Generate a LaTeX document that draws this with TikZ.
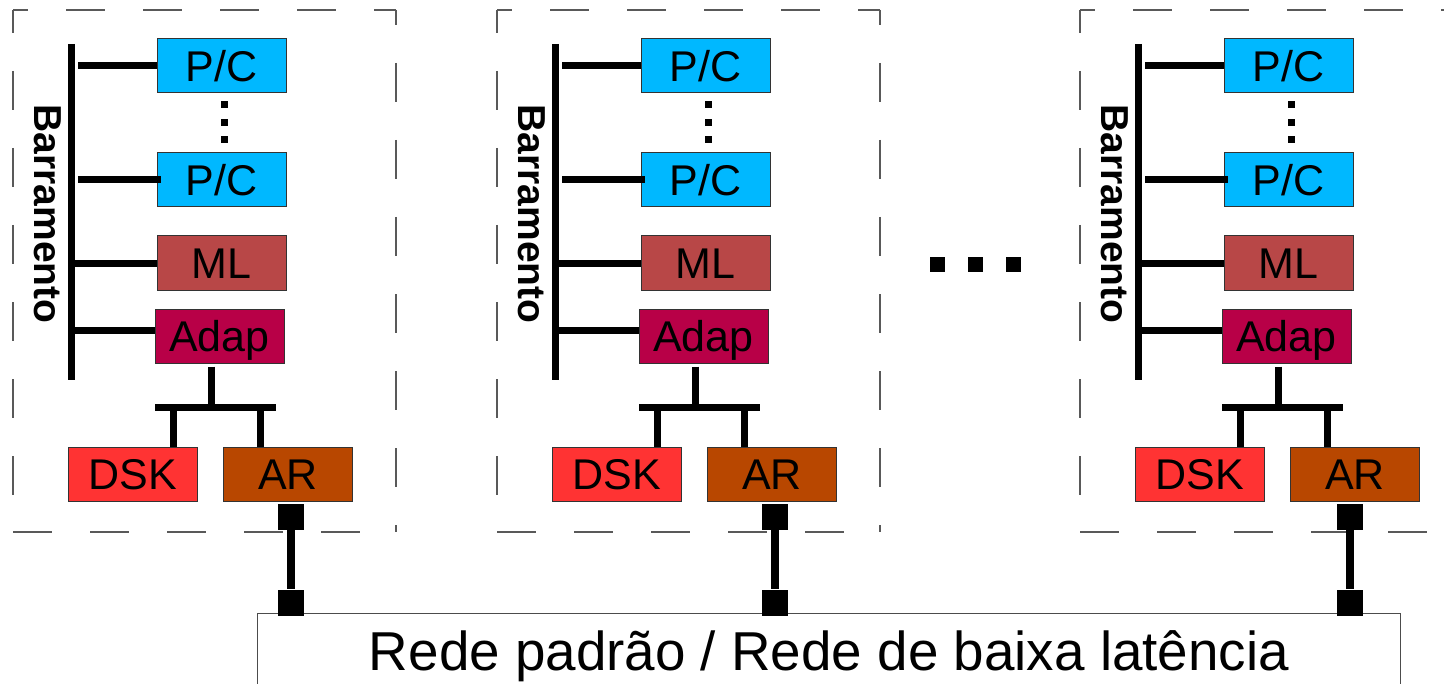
\documentclass[tikz,border=0pt]{standalone}
\usepackage{fontspec}
\setmainfont{Liberation Sans}
\usetikzlibrary{calc}
\definecolor{pccol}{RGB}{0,184,255}
\definecolor{mlcol}{RGB}{184,71,71}
\definecolor{adapcol}{RGB}{184,0,71}
\definecolor{dskcol}{RGB}{255,51,51}
\definecolor{arcol}{RGB}{184,71,0}
\begin{document}
\begin{tikzpicture}[x=0.5pt,y=-0.5pt,
  unitbox/.style={draw=black!80, line width=0.5pt, minimum width=64.5pt, minimum height=27pt,
    inner sep=0pt, font=\fontsize{21.5}{21.5}\selectfont, text height=15.4pt, text depth=0pt},
  wire/.style={line width=3.5pt},
  link/.style={line width=4pt},
  pad/.style={fill=black, minimum size=13pt, inner sep=0pt},
  smalldot/.style={fill=black, minimum size=3.5pt, inner sep=0pt},
  bigdot/.style={fill=black, minimum size=7.5pt, inner sep=0pt},
  frame/.style={draw=black!65, line width=0.7pt, dash pattern=on 19.5pt off 19pt},
]
\useasboundingbox (0,0) rectangle (1444,684);
\clip (0,0) rectangle (1444,684);

% network
\node[draw=black!70, line width=0.6pt, fill=white, anchor=north west,
      minimum width=571.5pt, minimum height=50pt, inner sep=0pt] (net) at (257,613) {};
\node[font=\fontsize{27.4}{27.4}\selectfont, anchor=base, inner sep=0pt] (nettext) at (829,670)
  {Rede padrão / Rede de baixa latência};

% ellipsis between modules
\node[bigdot] (e1) at (937.5,264.5) {};
\node[bigdot] (e2) at (975.5,264.5) {};
\node[bigdot] (e3) at (1013.5,264.5) {};

\foreach \o/\c in {0/291,484/291,1067/283} {
\begin{scope}[shift={(\o,0)}]
  % dashed frame
  \coordinate (ftl\o) at (13,10);
  \coordinate (ftr\o) at (396,10);
  \coordinate (fbl\o) at (13,532);
  \coordinate (fbr\o) at (396,532);
  \draw[frame, dash phase=12pt] (ftl\o) -- (ftr\o);
  \draw[frame, dash phase=8pt] (ftl\o) -- (fbl\o);
  \draw[frame, dash phase=12pt] (ftr\o) -- (fbr\o);
  \draw[frame] (fbl\o) -- (fbr\o);

  % units
  \node[unitbox, fill=pccol] (pca\o) at (221.5,66) {P/C};
  \node[unitbox, fill=pccol] (pcb\o) at (221.5,180) {P/C};
  \node[unitbox, fill=mlcol] (ml\o) at (221.5,263) {ML};
  \node[unitbox, fill=adapcol] (adap\o) at (219.5,336) {Adap};
  \node[unitbox, fill=dskcol] (dsk\o) at (133,474) {DSK};
  \node[unitbox, fill=arcol] (ar\o) at (288,474) {AR};

  % vertical dots between processors
  \node[smalldot] (va\o) at (224,105) {};
  \node[smalldot] (vb\o) at (224,122.5) {};
  \node[smalldot] (vc\o) at (224,140) {};

  % bus
  \coordinate (bt\o) at (71,44);
  \coordinate (bb\o) at (71,380);
  \draw[wire] (bt\o) -- (bb\o);
  \node[rotate=-90, inner sep=0pt, font=\bfseries\fontsize{19.5}{19.5}\selectfont] (lab\o) at (48,214) {Barramento};
  \draw[wire] ($(bt\o |- pca\o.west)+(7,0)$) -- (pca\o.west);
  \draw[wire] ($(bt\o |- pcb\o.west)+(7,0)$) -- ($(pcb\o.west)+(4,0)$);
  \draw[wire] (bt\o |- ml\o.west) -- (ml\o.west);
  \draw[wire] (bt\o |- adap\o.175) -- (adap\o.175);

  % adapter tree
  \coordinate (hub\o) at (211,407);
  \coordinate (barl\o) at (155,407);
  \coordinate (barr\o) at (276,407);
  \coordinate (d1\o) at (173,407);
  \coordinate (d2\o) at (260,407);
  \draw[wire] ([yshift=-1.5pt]adap\o.south -| hub\o) -- ([yshift=1.75pt]hub\o);
  \draw[wire] (barl\o) -- (barr\o);
  \draw[wire] (d1\o) -- (dsk\o.north -| d1\o);
  \draw[wire] (d2\o) -- (ar\o.north -| d2\o);

  % link to network
  \node[pad] (pt\o) at (\c,517) {};
  \node[pad] (pb\o) at (\c,602.5) {};
  \draw[link] (pt\o) -- (pb\o);
\end{scope}
}
\end{tikzpicture}
\end{document}
